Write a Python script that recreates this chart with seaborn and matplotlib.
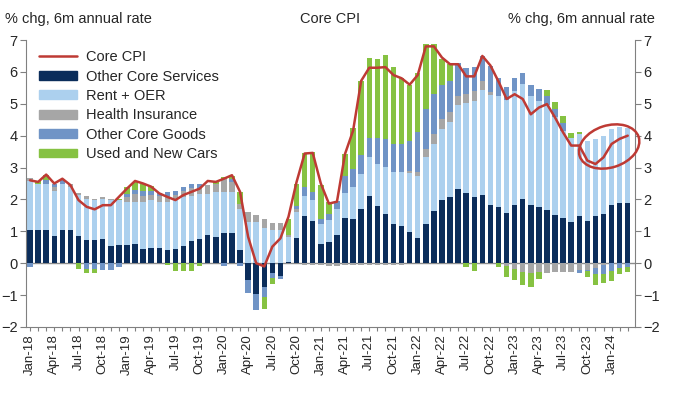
import numpy as np
import pandas as pd
import matplotlib
matplotlib.use("Agg")
import matplotlib.pyplot as plt
import matplotlib.transforms as mtransforms
from matplotlib.patches import Ellipse, Patch
from matplotlib.lines import Line2D
import seaborn as sns

sns.set_style("ticks")
plt.rcParams['font.family'] = ['Liberation Sans', 'DejaVu Sans']

# monthly, Jan-18 .. Mar-24
months = pd.date_range("2018-01-01", periods=75, freq="MS").strftime("%b-%y").tolist()

other_services = [1.05, 1.05, 1.05, 0.86, 1.05, 1.05, 0.86, 0.72, 0.72, 0.75, 0.53, 0.56,
                  0.56, 0.61, 0.46, 0.49, 0.49, 0.41, 0.46, 0.53, 0.69, 0.76, 0.90, 0.83,
                  0.95, 0.95, 0.43, -0.53, -0.95, -0.76, -0.32, -0.40, 0.05, 0.80, 1.47, 1.32,
                  0.61, 0.67, 0.90, 1.43, 1.40, 1.69, 2.10, 1.79, 1.54, 1.24, 1.17, 0.99,
                  0.79, 1.24, 1.63, 1.99, 2.07, 2.33, 2.21, 2.07, 2.15, 1.84, 1.76, 1.57,
                  1.84, 2.02, 1.84, 1.76, 1.66, 1.50, 1.43, 1.28, 1.47, 1.32, 1.47, 1.55,
                  1.84, 1.89, 1.89]
rent_oer = [1.52, 1.45, 1.45, 1.42, 1.42, 1.34, 1.27, 1.30, 1.25, 1.27, 1.44, 1.41,
            1.36, 1.31, 1.46, 1.48, 1.43, 1.51, 1.51, 1.54, 1.43, 1.42, 1.28, 1.40,
            1.28, 1.28, 1.27, 1.30, 1.30, 1.12, 1.05, 1.03, 0.77, 0.80, 0.65, 0.65,
            0.63, 0.67, 0.80, 0.78, 1.00, 1.11, 1.24, 1.32, 1.47, 1.61, 1.68, 1.83,
            1.96, 2.08, 2.11, 2.21, 2.35, 2.64, 2.83, 3.02, 3.28, 3.43, 3.47, 3.54,
            3.57, 3.59, 3.41, 3.33, 3.29, 3.10, 2.73, 2.65, 2.58, 2.52, 2.43, 2.45,
            2.36, 2.39, 2.35]
health_ins = [0.10, 0.00, 0.00, 0.10, 0.00, 0.10, 0.08, 0.08, 0.05, 0.05, 0.05, 0.00,
              0.15, 0.26, 0.18, 0.18, 0.20, 0.18, 0.18, 0.18, 0.23, 0.17, 0.26, 0.27,
              0.40, 0.32, 0.15, 0.30, 0.22, 0.28, 0.21, 0.23, 0.08, 0.10, -0.05, -0.05,
              -0.05, -0.10, -0.10, -0.07, -0.07, -0.07, -0.07, -0.07, -0.07, -0.05, -0.05, 0.08,
              0.10, 0.26, 0.31, 0.32, 0.31, 0.26, 0.26, 0.30, 0.29, 0.11, 0.00, -0.10,
              -0.17, -0.27, -0.32, -0.27, -0.32, -0.27, -0.27, -0.27, -0.22, -0.20, -0.15, -0.05,
              0.00, 0.00, 0.00]
core_goods = [-0.13, 0.00, 0.10, 0.11, 0.18, 0.00, 0.00, -0.17, -0.17, -0.20, -0.22, -0.11,
              0.10, 0.12, 0.18, 0.13, 0.08, 0.13, 0.13, 0.13, 0.12, 0.12, 0.00, 0.00,
              -0.08, 0.10, -0.10, -0.40, -0.52, -0.29, -0.15, -0.10, 0.00, 0.08, 0.26, 0.26,
              0.16, 0.21, 0.25, 0.52, 0.56, 0.58, 0.59, 0.82, 0.89, 0.89, 0.89, 0.92,
              1.25, 1.25, 1.25, 1.08, 0.99, 1.06, 0.81, 0.77, 0.78, 0.81, 0.59, 0.42,
              0.39, 0.34, 0.33, 0.37, 0.30, 0.25, 0.24, 0.00, -0.10, -0.05, -0.20, -0.30,
              -0.24, -0.16, -0.13]
used_new_cars = [0.00, 0.07, 0.18, 0.00, 0.00, 0.00, -0.17, -0.15, -0.15, 0.00, 0.00, 0.05,
                 0.22, 0.24, 0.22, 0.14, 0.00, -0.05, -0.25, -0.25, -0.25, -0.08, 0.00, 0.04,
                 0.07, 0.10, 0.37, 0.00, 0.00, -0.37, -0.17, 0.00, 0.50, 0.72, 1.07, 1.25,
                 1.04, 0.37, 0.00, 0.70, 1.29, 2.32, 2.52, 2.47, 2.62, 2.40, 2.08, 1.76,
                 1.85, 2.03, 1.56, 0.80, 0.52, 0.00, -0.13, -0.24, 0.00, 0.00, -0.13, -0.33,
                 -0.36, -0.42, -0.44, -0.21, 0.18, 0.21, 0.22, 0.14, 0.05, -0.18, -0.34, -0.28,
                 -0.32, -0.18, -0.16]
core_cpi = [2.60, 2.55, 2.78, 2.50, 2.65, 2.45, 1.98, 1.77, 1.69, 1.82, 1.82, 2.08,
            2.34, 2.58, 2.50, 2.40, 2.19, 2.08, 1.98, 2.14, 2.24, 2.34, 2.58, 2.55,
            2.65, 2.76, 2.24, 0.83, 0.00, -0.10, 0.52, 0.78, 1.46, 2.55, 3.44, 3.46,
            2.50, 1.87, 1.93, 3.43, 4.16, 5.72, 6.13, 6.13, 6.15, 5.90, 5.80, 5.60,
            5.90, 6.80, 6.80, 6.45, 6.24, 6.24, 5.86, 5.86, 6.50, 6.20, 5.70, 5.15,
            5.30, 5.15, 4.67, 4.88, 4.99, 4.57, 4.10, 3.69, 3.69, 3.22, 3.11, 3.32,
            3.74, 3.90, 4.00]

series = [("Other Core Services", other_services, "#0b2d5b"),
          ("Rent + OER", rent_oer, "#acd0ee"),
          ("Health Insurance", health_ins, "#a6a6a6"),
          ("Other Core Goods", core_goods, "#7094c6"),
          ("Used and New Cars", used_new_cars, "#86c242")]
red = "#be3a34"

fig = plt.figure(figsize=(6.73, 3.93), dpi=100)
ax = fig.add_axes([26 / 673, 66 / 393, 609 / 673, 287 / 393])

x = np.arange(len(months))
pos = np.zeros(len(x))
neg = np.zeros(len(x))
for name, vals, col in series:
    v = np.array(vals)
    bottom = np.where(v >= 0, pos, neg)
    ax.bar(x, v, bottom=bottom, width=0.68, color=col, linewidth=0, zorder=2)
    pos = pos + np.where(v >= 0, v, 0)
    neg = neg + np.where(v < 0, v, 0)

ax.axhline(0, color="#8c8c8c", lw=1, zorder=1)
sns.lineplot(x=x, y=core_cpi, ax=ax, color=red, lw=1.8, zorder=3, legend=False)

# circle round the latest months
trans = fig.dpi_scale_trans + mtransforms.ScaledTranslation(71.7, 3.66, ax.transData)
ax.add_patch(Ellipse((0, 0), 0.62, 0.42, angle=18, transform=trans, fill=False,
                     edgecolor=red, lw=1.8, clip_on=False, zorder=4))

ax.set_xlim(-0.5, 74.9)
ax.set_ylim(-2, 7)
ax.set_yticks(range(-2, 8))
ax.set_xticks(x)
ax.set_xticklabels([m if i % 3 == 0 else "" for i, m in enumerate(months)],
                   rotation=90, fontsize=9.5)
ax.tick_params(axis="y", left=True, right=True, labelleft=True, labelright=True,
               labelsize=10.5, length=4, color="#808080", pad=2)
ax.tick_params(axis="x", length=3, color="#808080", pad=2)
for s in ["left", "right", "bottom"]:
    ax.spines[s].set_color("#808080")
ax.spines["top"].set_visible(False)
ax.spines["right"].set_visible(True)

handles = [Line2D([], [], color=red, lw=1.8)] + [Patch(color=c) for _, _, c in series]
labels = ["Core CPI"] + [n for n, _, _ in series]
ax.legend(handles, labels, loc="upper left", bbox_to_anchor=(0.005, 1.0), frameon=False,
          fontsize=10.5, handlelength=2.6, handleheight=0.55, labelspacing=0.37,
          handletextpad=0.6, borderaxespad=0.3)

fig.text(5 / 673, 1 - 19 / 393, "% chg, 6m annual rate", fontsize=10.5, va="center", ha="left")
fig.text(655 / 673, 1 - 19 / 393, "% chg, 6m annual rate", fontsize=10.5, va="center", ha="right")
fig.text(330 / 673, 1 - 19 / 393, "Core CPI", fontsize=10.5, va="center", ha="center")

fig.savefig("out.png", dpi=100)
